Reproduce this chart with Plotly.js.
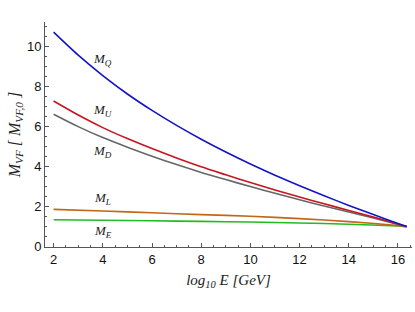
<!DOCTYPE html>
<html><head><meta charset="utf-8">
<script src="https://cdn.plot.ly/plotly-3.0.1.min.js"></script>
<style>html,body{margin:0;padding:0;background:#fff}#g{width:415px;height:312px}</style>
</head><body><div id="g"></div>
<script>
const xQ = [2,3,4,5,6,7,8,9,10,11,12,13,14,15,16,16.35];
const mQ = [10.72,9.57,8.55,7.63,6.81,6.06,5.37,4.73,4.13,3.57,3.04,2.54,2.06,1.6,1.16,1.0];
const mU = [7.28,6.58,5.95,5.40,4.9,4.43,3.99,3.59,3.2,2.83,2.48,2.14,1.81,1.48,1.13,1.0];
const mD = [6.62,6.0,5.45,4.97,4.52,4.1,3.71,3.35,3.0,2.67,2.34,2.03,1.73,1.43,1.11,1.0];
const xLE = [2,4,6,8,10,12,14,16,16.35];
const mL = [1.86,1.78,1.69,1.6,1.52,1.4,1.25,1.05,1.0];
const mE = [1.34,1.32,1.29,1.26,1.23,1.18,1.12,1.03,1.0];
const labels = ["M<sub>Q</sub>","M<sub>U</sub>","M<sub>D</sub>","M<sub>L</sub>","M<sub>E</sub>"];
const labelX = [4.0,4.0,4.0,4.0,4.0];
const labelY = [9.35,6.8,4.75,2.4,0.75];

const serif = "Liberation Serif, Times New Roman, serif";
function tr(x,y,c){return {x:x,y:y,type:'scatter',mode:'lines',line:{color:c,width:1.6,shape:'spline',smoothing:0.8},hoverinfo:'skip',showlegend:false};}
const data = [
  tr(xLE,mE,'#22bb22'),
  tr(xLE,mL,'#c06818'),
  tr(xQ,mD,'#666666'),
  tr(xQ,mU,'#c8141e'),
  tr(xQ,mQ,'#1414c8')
];
const ann = labels.map((t,i)=>({x:labelX[i],y:labelY[i],xref:'x',yref:'y',text:'<i>'+t+'</i>',showarrow:false,font:{family:serif,size:13,color:'#222'}}));
const axbase = {showgrid:false,zeroline:false,showline:true,linecolor:'#555',linewidth:1,ticks:'inside',ticklen:4,tickcolor:'#555',tickwidth:1,
  tickfont:{family:'Liberation Sans, Arial, sans-serif',size:13,color:'#111'},
  minor:{dtick:0.5,ticks:'inside',ticklen:2,tickcolor:'#555',tickwidth:1,showgrid:false}};
const layout = {
  width:415,height:312,margin:{l:45,r:3,t:22,b:65},paper_bgcolor:'#fff',plot_bgcolor:'#fff',
  xaxis:Object.assign({},axbase,{range:[1.65,16.57],tickvals:[2,4,6,8,10,12,14,16],
    title:{text:'<i>log<sub>10</sub> E [GeV]</i>',font:{family:serif,size:15,color:'#222'},standoff:8}}),
  yaxis:Object.assign({},axbase,{range:[-0.02,11.23],tickvals:[0,2,4,6,8,10],
    title:{text:'<i>M<sub>VF</sub> [ M<sub>VF,0</sub> ]</i>',font:{family:serif,size:16,color:'#222'},standoff:2}}),
  annotations:ann
};
Plotly.newPlot('g',data,layout,{staticPlot:true,displayModeBar:false});
</script></body></html>
